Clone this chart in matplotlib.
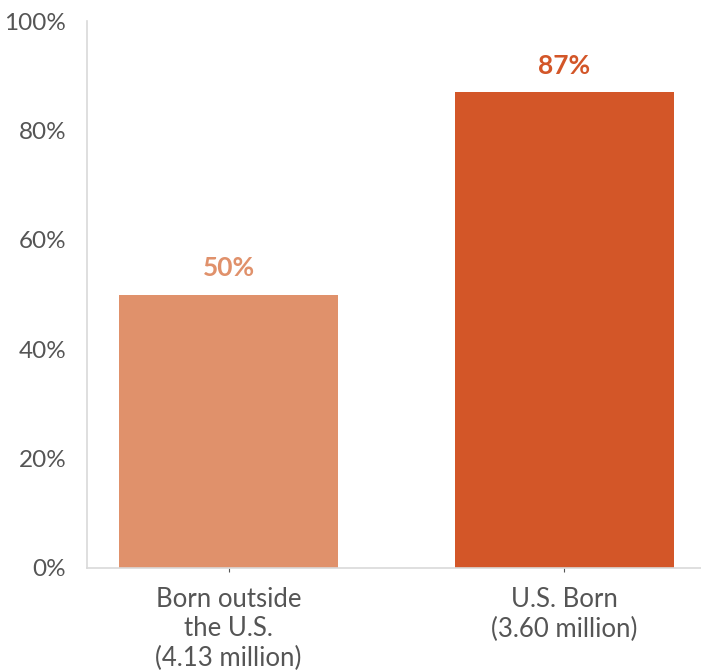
import matplotlib
matplotlib.use('Agg')
import matplotlib.pyplot as plt
from matplotlib.ticker import PercentFormatter

plt.rcParams['font.family'] = ['Lato', 'DejaVu Sans']

categories = ["Born outside\nthe U.S.\n(4.13 million)", "U.S. Born\n(3.60 million)"]
values = [50, 87]
colors = ['#E0916B', '#D35628']

fig = plt.figure(figsize=(7.01, 6.71), dpi=100)
ax = fig.add_axes([87 / 701, 1 - 568 / 671, 1 - 87 / 701, (568 - 21) / 671])

x = list(range(len(values)))
ax.bar(x, values, width=0.652, color=colors)
for xi, v, c in zip(x, values, colors):
    ax.annotate(f"{v}%", (xi, v), xytext=(0, 19), textcoords='offset points',
                ha='center', va='center', fontsize=19, fontweight='bold', color=c)

ax.set_xlim(-0.422, 1.407)
ax.set_ylim(0, 100)
ax.set_yticks(range(0, 101, 20))
ax.yaxis.set_major_formatter(PercentFormatter(decimals=0))
ax.set_xticks(x)
ax.set_xticklabels(categories, linespacing=1.2, fontsize=18.5)

for s in ['top', 'right']:
    ax.spines[s].set_visible(False)
for s in ['left', 'bottom']:
    ax.spines[s].set_color('#D9D9D9')
    ax.spines[s].set_linewidth(1.2)

ax.tick_params(axis='y', length=0, pad=15, labelsize=17.5, labelcolor='#555555')
ax.tick_params(axis='x', length=3, width=0.8, color='#555555', pad=11,
               labelcolor='#555555')

fig.savefig('out.png', dpi=100)
